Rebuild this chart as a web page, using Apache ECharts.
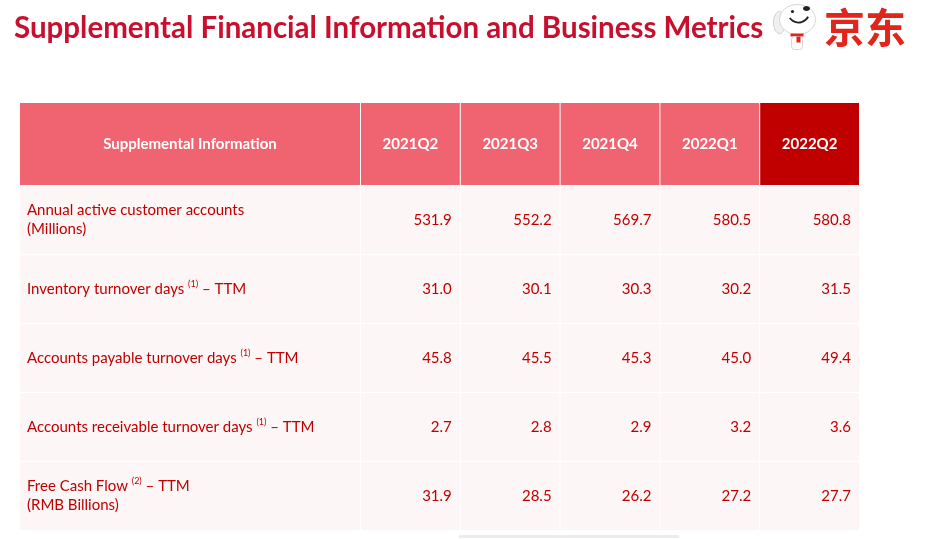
<!DOCTYPE html>
<html>
<head>
<meta charset="utf-8">
<script src="https://cdn.jsdelivr.net/npm/echarts@6/dist/echarts.min.js"></script>
<style>
html,body{margin:0;padding:0;background:#fff;}
#main{width:925px;height:539px;}
</style>
</head>
<body>
<div id="main"></div>
<script>
// data
var quarters=['2021Q2','2021Q3','2021Q4','2022Q1','2022Q2'];
var metricNames=['Annual active customer accounts','Inventory turnover days','Accounts payable turnover days','Accounts receivable turnover days','Free Cash Flow'];
var metricNotes=['','(1)','(1)','(1)','(2)'];
var metricSuffix=['','– TTM','– TTM','– TTM','– TTM'];
var metricUnits=['(Millions)','','','','(RMB Billions)'];
var annualActiveAccounts=[531.9,552.2,569.7,580.5,580.8];
var inventoryDays=[31.0,30.1,30.3,30.2,31.5];
var payableDays=[45.8,45.5,45.3,45.0,49.4];
var receivableDays=[2.7,2.8,2.9,3.2,3.6];
var freeCashFlow=[31.9,28.5,26.2,27.2,27.7];
var headerLabel='Supplemental Information';
var titleText='Supplemental Financial Information and Business Metrics';

var rows=[annualActiveAccounts,inventoryDays,payableDays,receivableDays,freeCashFlow];
var RED='#C00000';
var PINK='#EF6470';
var BODY='#FDF6F6';
var FONT='Lato';

// cell texts kept apart so "31.0" is not turned back into a number
var labelData=[],labelText=[];
for(var i=0;i<metricNames.length;i++){
	var t=metricNames[i];
	if(metricNotes[i]!='') t+=' {sup|'+metricNotes[i]+'}';
	if(metricSuffix[i]!='') t+=' '+metricSuffix[i];
	if(metricUnits[i]!='') t+='\n'+metricUnits[i];
	labelData.push([0,i]);
	labelText.push(t);
}
var valueData=[],valueText=[];
for(var i=0;i<rows.length;i++){
	for(var j=0;j<quarters.length;j++){
		valueData.push([j,i,rows[i][j]]);
		valueText.push(rows[i][j].toFixed(1));
	}
}
var headerData=[];
for(var j=0;j<quarters.length;j++){
	headerData.push([j,0]);
}

function cellRender(opts,texts){
	return function(params,api){
		var c=api.coord([api.value(0),api.value(1)]);
		var s=api.size([1,1]);
		var w=s[0]-1,h=s[1]-1;
		var x=c[0]-s[0]/2,y=c[1]-s[1]/2;
		var fill=opts.fill;
		if(opts.lastFill && api.value(0)==quarters.length-1) fill=opts.lastFill;
		var tx=opts.align=='left'?x+opts.pad:(opts.align=='right'?x+w-opts.pad:x+w/2);
		return {
			type:'group',
			children:[
				{type:'rect',shape:{x:x,y:y,width:w,height:h},style:{fill:fill}},
				{type:'text',style:{
					x:tx,y:y+h/2,
					text:texts[params.dataIndex],
					fill:opts.color,
					font:opts.font,
					align:opts.align,
					verticalAlign:'middle',
					lineHeight:opts.lineHeight||18,
					rich:{sup:{fontSize:9,fill:opts.color,fontFamily:FONT,verticalAlign:'top',padding:[0,0,7,0]}}
				}}
			]
		};
	};
}

function hiddenAxis(type,data,idx,inverse){
	var a={type:type,gridIndex:idx,show:false,axisLine:{show:false},axisTick:{show:false},splitLine:{show:false},axisLabel:{show:false}};
	if(data){a.data=data;}
	if(inverse){a.inverse=true;}
	return a;
}

var chart=echarts.init(document.getElementById('main'));
var option={
	backgroundColor:'#ffffff',
	animation:false,
	title:{
		text:titleText,
		left:9,top:8,
		textStyle:{color:'#C8102E',fontFamily:FONT,fontWeight:'bold',fontSize:29.5}
	},
	grid:[
		{left:20,top:103,width:341,height:83},
		{left:361,top:103,width:499,height:83},
		{left:20,top:186,width:341,height:345},
		{left:361,top:186,width:499,height:345}
	],
	xAxis:[
		hiddenAxis('category',['h'],0),
		hiddenAxis('category',quarters,1),
		hiddenAxis('category',['m'],2),
		hiddenAxis('category',quarters,3)
	],
	yAxis:[
		hiddenAxis('category',['h'],0),
		hiddenAxis('category',['h'],1),
		hiddenAxis('category',metricNames,2,true),
		hiddenAxis('category',metricNames,3,true)
	],
	series:[
		{type:'custom',xAxisIndex:0,yAxisIndex:0,data:[[0,0]],
		 renderItem:cellRender({fill:PINK,color:'#ffffff',font:'bold 15px '+FONT,align:'center',pad:0},[headerLabel])},
		{type:'custom',xAxisIndex:1,yAxisIndex:1,data:headerData,
		 renderItem:cellRender({fill:PINK,lastFill:'#C00000',color:'#ffffff',font:'bold 15px '+FONT,align:'center',pad:0},quarters)},
		{type:'custom',xAxisIndex:2,yAxisIndex:2,data:labelData,
		 renderItem:cellRender({fill:BODY,color:RED,font:'15px '+FONT,align:'left',pad:7,lineHeight:19},labelText)},
		{type:'custom',xAxisIndex:3,yAxisIndex:3,data:valueData,
		 renderItem:cellRender({fill:BODY,color:RED,font:'15px '+FONT,align:'right',pad:8},valueText)}
	],
	graphic:[
		// JD mascot (decoration)
		{type:'group',left:773,top:4,children:[
			{type:'ellipse',shape:{cx:7,cy:22,rx:6,ry:11},style:{fill:'#f0f0f0',stroke:'#cfcfcf',lineWidth:1}},
			{type:'ellipse',shape:{cx:25,cy:19,rx:18,ry:15},style:{fill:'#ffffff',stroke:'#d6d6d6',lineWidth:1}},
			{type:'ellipse',shape:{cx:34,cy:8,rx:3.5,ry:2.5},style:{fill:'#222'}},
			{type:'circle',shape:{cx:20,cy:11,r:1.6},style:{fill:'#222'}},
			{type:'arc',shape:{cx:26,cy:11,r:11,startAngle:0.5,endAngle:2.5},style:{stroke:'#222',lineWidth:1.8,fill:null}},
			{type:'rect',shape:{x:18,y:33,width:13,height:3},style:{fill:'#E1251B'}},
			{type:'rect',shape:{x:19,y:36,width:11,height:13,r:3},style:{fill:'#ffffff',stroke:'#d6d6d6',lineWidth:1}},
			{type:'rect',shape:{x:24,y:36,width:4,height:6},style:{fill:'#E1251B'}}
		]},
		{type:'text',left:824,top:7,style:{text:'京东',fill:'#E1251B',font:'bold 41px "Noto Sans CJK SC"'}},
		{type:'rect',left:459,top:535,shape:{width:220,height:3},style:{fill:'#ececec'}}
	]
};
chart.setOption(option);
</script>
</body>
</html>
